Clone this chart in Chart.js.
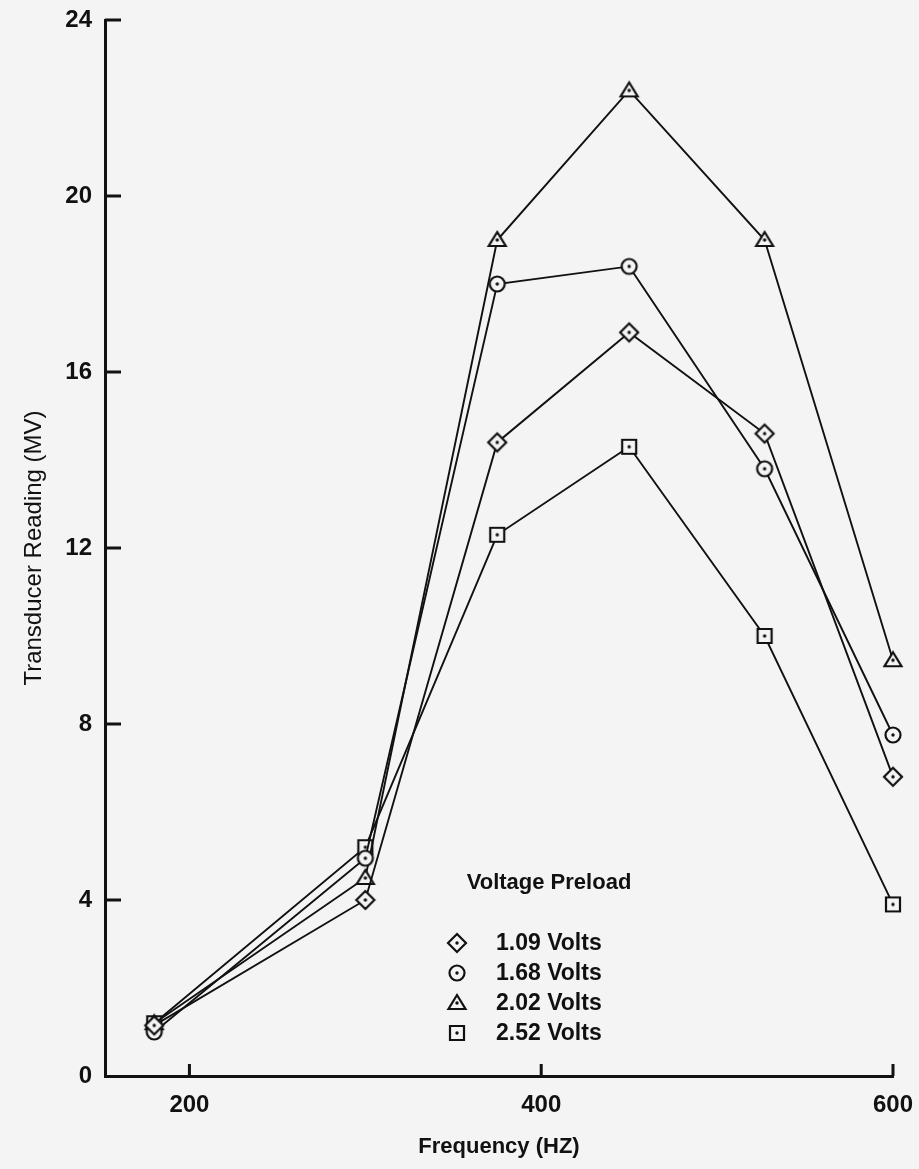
<!DOCTYPE html>
<html>
<head>
<meta charset="utf-8">
<script src="https://cdn.jsdelivr.net/npm/chart.js@4.4.0/dist/chart.umd.min.js"></script>
<style>
  html, body { margin: 0; padding: 0; background: #f4f4f4; }
  canvas { display: block; }
</style>
</head>
<body>
<canvas id="freqChart" width="919" height="1169"></canvas>
<script>
// Frequencies (HZ) where readings were taken
const frequencies = [180, 300, 375, 450, 527, 600];

// Transducer readings (MV), one array per voltage preload
const volts109 = [1.15, 4.0, 14.4, 16.9, 14.6, 6.8];
const volts168 = [1.0, 4.95, 18.0, 18.4, 13.8, 7.75];
const volts202 = [1.2, 4.5, 19.0, 22.4, 19.0, 9.45];
const volts252 = [1.2, 5.2, 12.3, 14.3, 10.0, 3.9];

const seriesLabels = ['1.09 Volts', '1.68 Volts', '2.02 Volts', '2.52 Volts'];
const xTickValues = [200, 400, 600];
const yTickValues = [0, 4, 8, 12, 16, 20, 24];

const INK = '#111';
const PAPER = '#f4f4f4';
const FONT = '"Liberation Sans", Arial, Helvetica, sans-serif';

// Hollow markers with a dot in the middle, like the plotter symbols
function makeMarker(shape) {
    const size = 24;
    const c = document.createElement('canvas');
    c.width = size;
    c.height = size;
    const g = c.getContext('2d');
    const m = size / 2;
    g.lineWidth = 2.2;
    g.strokeStyle = INK;
    g.fillStyle = PAPER;
    g.beginPath();
    if (shape === 'diamond') {
        g.moveTo(m, m - 9); g.lineTo(m + 9, m); g.lineTo(m, m + 9); g.lineTo(m - 9, m); g.closePath();
    } else if (shape === 'circle') {
        g.arc(m, m, 7.5, 0, Math.PI * 2);
    } else if (shape === 'triangle') {
        g.moveTo(m, m - 8); g.lineTo(m + 8.5, m + 6); g.lineTo(m - 8.5, m + 6); g.closePath();
    } else {
        g.rect(m - 7, m - 7, 14, 14);
    }
    g.fill();
    g.stroke();
    g.beginPath();
    g.arc(m, m, 1.7, 0, Math.PI * 2);
    g.fillStyle = INK;
    g.fill();
    return c;
}

const markers = [makeMarker('diamond'), makeMarker('circle'), makeMarker('triangle'), makeMarker('square')];

function toPoints(values) {
    return frequencies.map((f, i) => ({ x: f, y: values[i] }));
}

// Tick marks drawn inward from the axes
const inwardTicks = {
    id: 'inwardTicks',
    afterDraw(chart) {
        const { ctx, chartArea, scales } = chart;
        ctx.save();
        ctx.strokeStyle = INK;
        ctx.lineWidth = 3;
        ctx.beginPath();
        yTickValues.forEach(v => {
            if (v === 0) return;
            const py = scales.y.getPixelForValue(v);
            ctx.moveTo(chartArea.left, py);
            ctx.lineTo(chartArea.left + 16, py);
        });
        xTickValues.forEach(v => {
            const px = scales.x.getPixelForValue(v);
            ctx.moveTo(px, chartArea.bottom);
            ctx.lineTo(px, chartArea.bottom - 12);
        });
        ctx.stroke();
        ctx.restore();
    }
};

// Legend block inside the plot
const voltageLegend = {
    id: 'voltageLegend',
    afterDraw(chart, args, opts) {
        const ctx = chart.ctx;
        ctx.save();
        ctx.fillStyle = INK;
        ctx.textBaseline = 'middle';
        ctx.font = 'bold 22px ' + FONT;
        ctx.textAlign = 'center';
        ctx.fillText(opts.title, opts.titleX, opts.titleY);
        ctx.font = 'bold 23px ' + FONT;
        ctx.textAlign = 'left';
        chart.data.datasets.forEach((ds, i) => {
            const y = opts.itemY + i * opts.rowGap;
            const img = ds.pointStyle;
            ctx.drawImage(img, opts.markerX - img.width / 2, y - img.height / 2);
            ctx.fillText(ds.label, opts.textX, y + 1);
        });
        ctx.restore();
    }
};

const datasets = [volts109, volts168, volts202, volts252].map((vals, i) => ({
    label: seriesLabels[i],
    data: toPoints(vals),
    borderColor: INK,
    borderWidth: 1.9,
    pointStyle: markers[i],
    pointRadius: 8,
    clip: false,
    tension: 0
}));

const ctx = document.getElementById('freqChart').getContext('2d');
new Chart(ctx, {
    type: 'line',
    data: { datasets: datasets },
    plugins: [inwardTicks, voltageLegend],
    options: {
        responsive: false,
        animation: false,
        layout: { padding: { top: 20, right: 26, bottom: 0, left: 0 } },
        scales: {
            x: {
                type: 'linear',
                min: 152,
                max: 600,
                afterFit: s => { s.height = 93; s.paddingLeft = 0; s.paddingRight = 0; },
                afterBuildTicks: s => { s.ticks = xTickValues.map(v => ({ value: v })); },
                grid: { display: false, drawTicks: false },
                border: { display: true, color: INK, width: 3 },
                ticks: {
                    padding: 15,
                    color: INK,
                    font: { family: FONT, size: 24, weight: 'bold' }
                },
                title: {
                    display: true,
                    text: 'Frequency (HZ)',
                    color: INK,
                    padding: { top: 0, bottom: 9 },
                    font: { family: FONT, size: 22, weight: 'bold' }
                }
            },
            y: {
                min: 0,
                max: 24,
                afterFit: s => { s.width = 105; s.paddingTop = 0; s.paddingBottom = 0; },
                afterBuildTicks: s => { s.ticks = yTickValues.map(v => ({ value: v })); },
                grid: { display: false, drawTicks: false },
                border: { display: true, color: INK, width: 3 },
                ticks: {
                    padding: 13,
                    color: INK,
                    font: { family: FONT, size: 24, weight: 'bold' }
                },
                title: {
                    display: true,
                    text: 'Transducer Reading (MV)',
                    color: INK,
                    padding: { top: 20, bottom: 0 },
                    font: { family: FONT, size: 24, weight: 'normal' }
                }
            }
        },
        plugins: {
            legend: { display: false },
            tooltip: { enabled: false },
            voltageLegend: {
                title: 'Voltage Preload',
                titleX: 549,
                titleY: 883,
                markerX: 457,
                textX: 496,
                itemY: 943,
                rowGap: 30
            }
        }
    }
});
</script>
</body>
</html>
